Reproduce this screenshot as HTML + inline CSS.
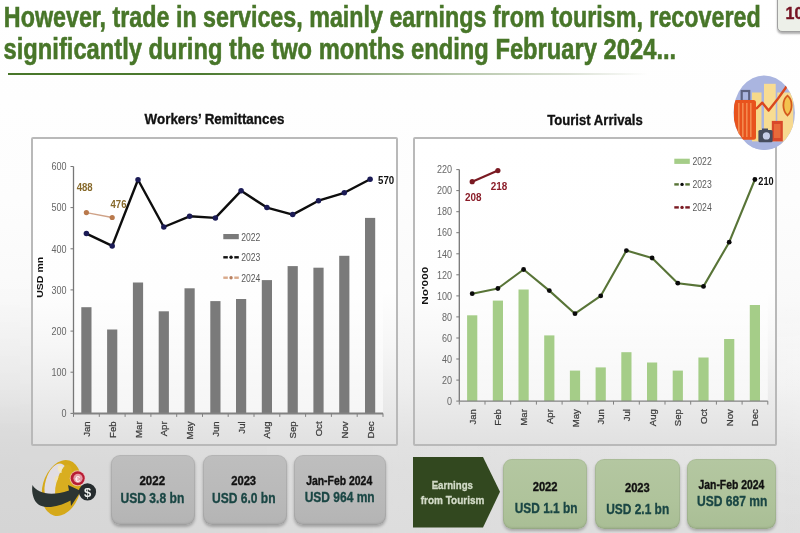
<!DOCTYPE html>
<html>
<head>
<meta charset="utf-8">
<style>
html,body{margin:0;padding:0;}
body{width:800px;height:533px;overflow:hidden;position:relative;
  background:linear-gradient(to bottom,#ffffff 0px,#fdfdfd 200px,#f9f9f9 300px,#f4f4f4 345px,#efefef 385px,#e9e9e9 410px,#e2e2e2 440px,#dfdfdf 470px,#dddddd 533px);
  font-family:"Liberation Sans",Arial,sans-serif;}
.abs{position:absolute;}
.uline{position:absolute;left:8px;top:72.5px;width:640px;height:2px;background:linear-gradient(to right,#487629 0%,#4c7a30 30%,#7d9c68 50%,#b5c6a9 70%,#dce2d6 88%,rgba(235,238,232,0) 100%);}
.pg{position:absolute;left:777px;top:-8px;width:40px;height:37.5px;border:1.5px solid #a0a0a0;border-radius:5px;background:#edf0e9;box-shadow:0 2px 2px rgba(0,0,0,0.3);}
.pgt{position:absolute;left:785.5px;top:4.5px;font-weight:bold;font-size:16px;color:#751222;-webkit-text-stroke:0.4px #751222;}
.box{position:absolute;top:137px;height:305px;border:2px solid #b9b9b9;border-radius:2px;background:linear-gradient(to bottom,#ffffff 0%,#fefefe 50%,#f6f6f6 68%,#ededed 82%,#e1e1e1 100%);}
svg text{font-family:"Liberation Sans",Arial,sans-serif;}
.yl{font-size:10.4px;fill:#666;}
.xl{font-size:9.6px;fill:#3c3c3c;stroke:#3c3c3c;stroke-width:0.25px;}
.dl{font-size:10.5px;font-weight:bold;}
.lg{font-size:10.8px;fill:#5a5a5a;}
.yt{font-weight:bold;fill:#111;}
.gbox{position:absolute;border-radius:9px;background:linear-gradient(to bottom,#bebebe,#b9b9b9 60%,#b4b4b4);box-shadow:inset 0 0 0 1px rgba(0,0,0,0.05),inset 0 -2px 2px rgba(0,0,0,0.07),0 2px 3px rgba(0,0,0,0.26);text-align:center;}
.vbox{position:absolute;border-radius:9px;background:linear-gradient(to bottom,#b4c7a1,#afc39b 60%,#a9be95);box-shadow:inset 0 0 0 1px rgba(0,0,0,0.05),inset 0 -2px 2px rgba(0,0,0,0.06),0 2px 3px rgba(0,0,0,0.24);text-align:center;}
</style>
</head>
<body>
<div class="abs" style="left:0;top:280px;width:800px;height:253px;background:linear-gradient(to right,rgba(0,0,0,0.035) 0%,rgba(0,0,0,0.01) 30%,rgba(255,255,255,0) 50%,rgba(255,255,255,0.05) 100%);-webkit-mask-image:linear-gradient(to bottom,transparent 0%,#000 60%,#000 100%);mask-image:linear-gradient(to bottom,transparent 0%,#000 60%,#000 100%);"></div>
<div class="abs" style="left:0;top:300px;width:800px;height:233px;background:linear-gradient(to right,rgba(255,255,255,0) 45%,rgba(255,255,255,0.3) 100%);-webkit-mask-image:linear-gradient(to bottom,transparent 0%,rgba(0,0,0,1) 25%,rgba(0,0,0,0.6) 60%,rgba(0,0,0,0.1) 100%);mask-image:linear-gradient(to bottom,transparent 0%,rgba(0,0,0,1) 25%,rgba(0,0,0,0.6) 60%,rgba(0,0,0,0.1) 100%);"></div>
<div class="uline"></div>
<div class="pg"></div>
<div class="pgt">10</div>

<!-- chart boxes -->
<div class="box" style="left:31px;width:363px;"></div>
<div class="box" style="left:413px;width:360px;"></div>

<svg class="abs" style="left:0;top:0" width="800" height="533" viewBox="0 0 800 533">
<defs><linearGradient id="pa" x1="0" y1="0" x2="0" y2="1"><stop offset="0" stop-color="#fff" stop-opacity="0"/><stop offset="0.6" stop-color="#fff" stop-opacity="0.5"/><stop offset="1" stop-color="#fff" stop-opacity="0.6"/></linearGradient></defs>
<rect x="73.5" y="166.5" width="309.5" height="246.9" fill="url(#pa)"/>
<rect x="81.3" y="307.2" width="10.2" height="106.2" fill="#7a7a7a"/>
<rect x="107.1" y="329.5" width="10.2" height="83.9" fill="#7a7a7a"/>
<rect x="132.9" y="282.5" width="10.2" height="130.9" fill="#7a7a7a"/>
<rect x="158.7" y="311.3" width="10.2" height="102.1" fill="#7a7a7a"/>
<rect x="184.5" y="288.3" width="10.2" height="125.1" fill="#7a7a7a"/>
<rect x="210.3" y="301.1" width="10.2" height="112.3" fill="#7a7a7a"/>
<rect x="236.0" y="299.0" width="10.2" height="114.4" fill="#7a7a7a"/>
<rect x="261.8" y="280.1" width="10.2" height="133.3" fill="#7a7a7a"/>
<rect x="287.6" y="266.1" width="10.2" height="147.3" fill="#7a7a7a"/>
<rect x="313.4" y="267.7" width="10.2" height="145.7" fill="#7a7a7a"/>
<rect x="339.2" y="255.8" width="10.2" height="157.6" fill="#7a7a7a"/>
<rect x="365.0" y="217.9" width="10.2" height="195.5" fill="#7a7a7a"/>
<line x1="73.5" y1="166.5" x2="73.5" y2="413.4" stroke="#777" stroke-width="1.3"/>
<line x1="73.5" y1="413.4" x2="383.0" y2="413.4" stroke="#828282" stroke-width="2"/>
<line x1="70.5" y1="413.4" x2="73.5" y2="413.4" stroke="#777" stroke-width="1"/>
<text x="61.48" y="417.1" class="yl" textLength="5.02" lengthAdjust="spacingAndGlyphs">0</text>
<line x1="70.5" y1="372.2" x2="73.5" y2="372.2" stroke="#777" stroke-width="1"/>
<text x="51.44" y="375.9" class="yl" textLength="15.06" lengthAdjust="spacingAndGlyphs">100</text>
<line x1="70.5" y1="331.1" x2="73.5" y2="331.1" stroke="#777" stroke-width="1"/>
<text x="51.44" y="334.8" class="yl" textLength="15.06" lengthAdjust="spacingAndGlyphs">200</text>
<line x1="70.5" y1="289.9" x2="73.5" y2="289.9" stroke="#777" stroke-width="1"/>
<text x="51.44" y="293.6" class="yl" textLength="15.06" lengthAdjust="spacingAndGlyphs">300</text>
<line x1="70.5" y1="248.8" x2="73.5" y2="248.8" stroke="#777" stroke-width="1"/>
<text x="51.44" y="252.5" class="yl" textLength="15.06" lengthAdjust="spacingAndGlyphs">400</text>
<line x1="70.5" y1="207.6" x2="73.5" y2="207.6" stroke="#777" stroke-width="1"/>
<text x="51.44" y="211.3" class="yl" textLength="15.06" lengthAdjust="spacingAndGlyphs">500</text>
<line x1="70.5" y1="166.5" x2="73.5" y2="166.5" stroke="#777" stroke-width="1"/>
<text x="51.44" y="170.2" class="yl" textLength="15.06" lengthAdjust="spacingAndGlyphs">600</text>
<line x1="73.5" y1="413.4" x2="73.5" y2="416.9" stroke="#808080" stroke-width="1"/>
<line x1="99.3" y1="413.4" x2="99.3" y2="416.9" stroke="#808080" stroke-width="1"/>
<line x1="125.1" y1="413.4" x2="125.1" y2="416.9" stroke="#808080" stroke-width="1"/>
<line x1="150.9" y1="413.4" x2="150.9" y2="416.9" stroke="#808080" stroke-width="1"/>
<line x1="176.7" y1="413.4" x2="176.7" y2="416.9" stroke="#808080" stroke-width="1"/>
<line x1="202.5" y1="413.4" x2="202.5" y2="416.9" stroke="#808080" stroke-width="1"/>
<line x1="228.2" y1="413.4" x2="228.2" y2="416.9" stroke="#808080" stroke-width="1"/>
<line x1="254.0" y1="413.4" x2="254.0" y2="416.9" stroke="#808080" stroke-width="1"/>
<line x1="279.8" y1="413.4" x2="279.8" y2="416.9" stroke="#808080" stroke-width="1"/>
<line x1="305.6" y1="413.4" x2="305.6" y2="416.9" stroke="#808080" stroke-width="1"/>
<line x1="331.4" y1="413.4" x2="331.4" y2="416.9" stroke="#808080" stroke-width="1"/>
<line x1="357.2" y1="413.4" x2="357.2" y2="416.9" stroke="#808080" stroke-width="1"/>
<line x1="383.0" y1="413.4" x2="383.0" y2="416.9" stroke="#808080" stroke-width="1"/>
<text transform="translate(89.9,421.4) rotate(-90)" text-anchor="end" class="xl">Jan</text>
<text transform="translate(115.7,421.4) rotate(-90)" text-anchor="end" class="xl">Feb</text>
<text transform="translate(141.5,421.4) rotate(-90)" text-anchor="end" class="xl">Mar</text>
<text transform="translate(167.3,421.4) rotate(-90)" text-anchor="end" class="xl">Apr</text>
<text transform="translate(193.1,421.4) rotate(-90)" text-anchor="end" class="xl">May</text>
<text transform="translate(218.9,421.4) rotate(-90)" text-anchor="end" class="xl">Jun</text>
<text transform="translate(244.6,421.4) rotate(-90)" text-anchor="end" class="xl">Jul</text>
<text transform="translate(270.4,421.4) rotate(-90)" text-anchor="end" class="xl">Aug</text>
<text transform="translate(296.2,421.4) rotate(-90)" text-anchor="end" class="xl">Sep</text>
<text transform="translate(322.0,421.4) rotate(-90)" text-anchor="end" class="xl">Oct</text>
<text transform="translate(347.8,421.4) rotate(-90)" text-anchor="end" class="xl">Nov</text>
<text transform="translate(373.6,421.4) rotate(-90)" text-anchor="end" class="xl">Dec</text>
<polyline points="86.4,233.6 112.2,245.9 138.0,179.7 163.8,227.0 189.6,216.3 215.4,217.9 241.1,190.8 266.9,207.6 292.7,214.6 318.5,200.7 344.3,192.8 370.1,179.3" fill="none" stroke="#0d0d0d" stroke-width="2.4" stroke-linejoin="round"/>
<circle cx="86.4" cy="233.6" r="2.75" fill="#1b1b55"/>
<circle cx="112.2" cy="245.9" r="2.75" fill="#1b1b55"/>
<circle cx="138.0" cy="179.7" r="2.75" fill="#1b1b55"/>
<circle cx="163.8" cy="227.0" r="2.75" fill="#1b1b55"/>
<circle cx="189.6" cy="216.3" r="2.75" fill="#1b1b55"/>
<circle cx="215.4" cy="217.9" r="2.75" fill="#1b1b55"/>
<circle cx="241.1" cy="190.8" r="2.75" fill="#1b1b55"/>
<circle cx="266.9" cy="207.6" r="2.75" fill="#1b1b55"/>
<circle cx="292.7" cy="214.6" r="2.75" fill="#1b1b55"/>
<circle cx="318.5" cy="200.7" r="2.75" fill="#1b1b55"/>
<circle cx="344.3" cy="192.8" r="2.75" fill="#1b1b55"/>
<circle cx="370.1" cy="179.3" r="2.75" fill="#1b1b55"/>
<line x1="86.4" y1="212.6" x2="112.2" y2="217.5" stroke="#cfa287" stroke-width="1.4"/>
<circle cx="86.4" cy="212.6" r="2.6" fill="#b9794c"/>
<circle cx="112.2" cy="217.5" r="2.6" fill="#b9794c"/>
<text x="76.7" y="191" class="dl" fill="#86692a" textLength="16" lengthAdjust="spacingAndGlyphs">488</text>
<text x="110.5" y="207.8" class="dl" fill="#86692a" textLength="16" lengthAdjust="spacingAndGlyphs">476</text>
<text x="378" y="184" class="dl" fill="#111" textLength="16.2" lengthAdjust="spacingAndGlyphs">570</text>
<text transform="translate(42.6,297.80) rotate(-90)" class="yt" font-size="8.2" textLength="41" lengthAdjust="spacingAndGlyphs">USD mn</text><rect x="223.3" y="234.0" width="15.5" height="5.2" fill="#7a7a7a"/>
<rect x="223.3" y="256.1" width="4.5" height="2.4" fill="#111"/>
<rect x="234.3" y="256.1" width="4.5" height="2.4" fill="#111"/>
<circle cx="231.05" cy="257.3" r="1.7" fill="#111"/>
<rect x="223.3" y="276.5" width="4.5" height="2.4" fill="#d9a98a"/>
<rect x="234.3" y="276.5" width="4.5" height="2.4" fill="#d9a98a"/>
<circle cx="231.05" cy="277.7" r="1.7" fill="#b88060"/>
<text x="241.2" y="240.5" class="lg" textLength="19.2" lengthAdjust="spacingAndGlyphs">2022</text>
<text x="241.2" y="261.2" class="lg" textLength="19.2" lengthAdjust="spacingAndGlyphs">2023</text>
<text x="241.2" y="281.6" class="lg" textLength="19.2" lengthAdjust="spacingAndGlyphs">2024</text>
<rect x="459.3" y="169.6" width="308.5" height="231.6" fill="url(#pa)"/>
<rect x="467.1" y="315.3" width="10.2" height="85.8" fill="#a5cd88"/>
<rect x="492.8" y="300.6" width="10.2" height="100.5" fill="#a5cd88"/>
<rect x="518.5" y="289.5" width="10.2" height="111.6" fill="#a5cd88"/>
<rect x="544.2" y="335.4" width="10.2" height="65.7" fill="#a5cd88"/>
<rect x="569.9" y="370.6" width="10.2" height="30.5" fill="#a5cd88"/>
<rect x="595.6" y="367.4" width="10.2" height="33.7" fill="#a5cd88"/>
<rect x="621.3" y="352.2" width="10.2" height="48.9" fill="#a5cd88"/>
<rect x="647.0" y="362.5" width="10.2" height="38.6" fill="#a5cd88"/>
<rect x="672.7" y="370.6" width="10.2" height="30.5" fill="#a5cd88"/>
<rect x="698.4" y="357.5" width="10.2" height="43.6" fill="#a5cd88"/>
<rect x="724.1" y="339.0" width="10.2" height="62.1" fill="#a5cd88"/>
<rect x="749.8" y="305.0" width="10.2" height="96.1" fill="#a5cd88"/>
<line x1="459.3" y1="169.6" x2="459.3" y2="401.1" stroke="#777" stroke-width="1.3"/>
<line x1="459.3" y1="401.1" x2="767.8" y2="401.1" stroke="#828282" stroke-width="1.4"/>
<line x1="456.3" y1="401.1" x2="459.3" y2="401.1" stroke="#777" stroke-width="1"/>
<text x="446.98" y="404.8" class="yl" textLength="5.02" lengthAdjust="spacingAndGlyphs">0</text>
<line x1="456.3" y1="380.1" x2="459.3" y2="380.1" stroke="#777" stroke-width="1"/>
<text x="441.96" y="383.8" class="yl" textLength="10.04" lengthAdjust="spacingAndGlyphs">20</text>
<line x1="456.3" y1="359.0" x2="459.3" y2="359.0" stroke="#777" stroke-width="1"/>
<text x="441.96" y="362.7" class="yl" textLength="10.04" lengthAdjust="spacingAndGlyphs">40</text>
<line x1="456.3" y1="338.0" x2="459.3" y2="338.0" stroke="#777" stroke-width="1"/>
<text x="441.96" y="341.7" class="yl" textLength="10.04" lengthAdjust="spacingAndGlyphs">60</text>
<line x1="456.3" y1="316.9" x2="459.3" y2="316.9" stroke="#777" stroke-width="1"/>
<text x="441.96" y="320.6" class="yl" textLength="10.04" lengthAdjust="spacingAndGlyphs">80</text>
<line x1="456.3" y1="295.9" x2="459.3" y2="295.9" stroke="#777" stroke-width="1"/>
<text x="436.94" y="299.6" class="yl" textLength="15.06" lengthAdjust="spacingAndGlyphs">100</text>
<line x1="456.3" y1="274.8" x2="459.3" y2="274.8" stroke="#777" stroke-width="1"/>
<text x="436.94" y="278.5" class="yl" textLength="15.06" lengthAdjust="spacingAndGlyphs">120</text>
<line x1="456.3" y1="253.8" x2="459.3" y2="253.8" stroke="#777" stroke-width="1"/>
<text x="436.94" y="257.5" class="yl" textLength="15.06" lengthAdjust="spacingAndGlyphs">140</text>
<line x1="456.3" y1="232.7" x2="459.3" y2="232.7" stroke="#777" stroke-width="1"/>
<text x="436.94" y="236.4" class="yl" textLength="15.06" lengthAdjust="spacingAndGlyphs">160</text>
<line x1="456.3" y1="211.7" x2="459.3" y2="211.7" stroke="#777" stroke-width="1"/>
<text x="436.94" y="215.4" class="yl" textLength="15.06" lengthAdjust="spacingAndGlyphs">180</text>
<line x1="456.3" y1="190.6" x2="459.3" y2="190.6" stroke="#777" stroke-width="1"/>
<text x="436.94" y="194.3" class="yl" textLength="15.06" lengthAdjust="spacingAndGlyphs">200</text>
<line x1="456.3" y1="169.6" x2="459.3" y2="169.6" stroke="#777" stroke-width="1"/>
<text x="436.94" y="173.2" class="yl" textLength="15.06" lengthAdjust="spacingAndGlyphs">220</text>
<line x1="459.3" y1="401.1" x2="459.3" y2="404.6" stroke="#808080" stroke-width="1"/>
<line x1="485.0" y1="401.1" x2="485.0" y2="404.6" stroke="#808080" stroke-width="1"/>
<line x1="510.7" y1="401.1" x2="510.7" y2="404.6" stroke="#808080" stroke-width="1"/>
<line x1="536.4" y1="401.1" x2="536.4" y2="404.6" stroke="#808080" stroke-width="1"/>
<line x1="562.1" y1="401.1" x2="562.1" y2="404.6" stroke="#808080" stroke-width="1"/>
<line x1="587.8" y1="401.1" x2="587.8" y2="404.6" stroke="#808080" stroke-width="1"/>
<line x1="613.5" y1="401.1" x2="613.5" y2="404.6" stroke="#808080" stroke-width="1"/>
<line x1="639.3" y1="401.1" x2="639.3" y2="404.6" stroke="#808080" stroke-width="1"/>
<line x1="665.0" y1="401.1" x2="665.0" y2="404.6" stroke="#808080" stroke-width="1"/>
<line x1="690.7" y1="401.1" x2="690.7" y2="404.6" stroke="#808080" stroke-width="1"/>
<line x1="716.4" y1="401.1" x2="716.4" y2="404.6" stroke="#808080" stroke-width="1"/>
<line x1="742.1" y1="401.1" x2="742.1" y2="404.6" stroke="#808080" stroke-width="1"/>
<line x1="767.8" y1="401.1" x2="767.8" y2="404.6" stroke="#808080" stroke-width="1"/>
<text transform="translate(475.7,409.1) rotate(-90)" text-anchor="end" class="xl">Jan</text>
<text transform="translate(501.4,409.1) rotate(-90)" text-anchor="end" class="xl">Feb</text>
<text transform="translate(527.1,409.1) rotate(-90)" text-anchor="end" class="xl">Mar</text>
<text transform="translate(552.8,409.1) rotate(-90)" text-anchor="end" class="xl">Apr</text>
<text transform="translate(578.5,409.1) rotate(-90)" text-anchor="end" class="xl">May</text>
<text transform="translate(604.2,409.1) rotate(-90)" text-anchor="end" class="xl">Jun</text>
<text transform="translate(629.9,409.1) rotate(-90)" text-anchor="end" class="xl">Jul</text>
<text transform="translate(655.6,409.1) rotate(-90)" text-anchor="end" class="xl">Aug</text>
<text transform="translate(681.3,409.1) rotate(-90)" text-anchor="end" class="xl">Sep</text>
<text transform="translate(707.0,409.1) rotate(-90)" text-anchor="end" class="xl">Oct</text>
<text transform="translate(732.7,409.1) rotate(-90)" text-anchor="end" class="xl">Nov</text>
<text transform="translate(758.4,409.1) rotate(-90)" text-anchor="end" class="xl">Dec</text>
<polyline points="472.2,293.7 497.9,288.5 523.6,269.5 549.3,290.6 575.0,313.7 600.7,295.9 626.4,250.6 652.1,258.0 677.8,283.2 703.5,286.4 729.2,242.2 754.9,179.5" fill="none" stroke="#587437" stroke-width="2.1" stroke-linejoin="round"/>
<circle cx="472.2" cy="293.7" r="2.4" fill="#0a0a0a"/>
<circle cx="497.9" cy="288.5" r="2.4" fill="#0a0a0a"/>
<circle cx="523.6" cy="269.5" r="2.4" fill="#0a0a0a"/>
<circle cx="549.3" cy="290.6" r="2.4" fill="#0a0a0a"/>
<circle cx="575.0" cy="313.7" r="2.4" fill="#0a0a0a"/>
<circle cx="600.7" cy="295.9" r="2.4" fill="#0a0a0a"/>
<circle cx="626.4" cy="250.6" r="2.4" fill="#0a0a0a"/>
<circle cx="652.1" cy="258.0" r="2.4" fill="#0a0a0a"/>
<circle cx="677.8" cy="283.2" r="2.4" fill="#0a0a0a"/>
<circle cx="703.5" cy="286.4" r="2.4" fill="#0a0a0a"/>
<circle cx="729.2" cy="242.2" r="2.4" fill="#0a0a0a"/>
<circle cx="754.9" cy="179.5" r="2.4" fill="#0a0a0a"/>
<line x1="472.2" y1="181.7" x2="497.9" y2="170.6" stroke="#7a1a22" stroke-width="2.2"/>
<circle cx="472.2" cy="181.7" r="2.6" fill="#7a1a22"/>
<circle cx="497.9" cy="170.6" r="2.6" fill="#7a1a22"/>
<text x="465" y="201" class="dl" fill="#8a1c28" textLength="16.5" lengthAdjust="spacingAndGlyphs">208</text>
<text x="490.7" y="190" class="dl" fill="#8a1c28" textLength="16.5" lengthAdjust="spacingAndGlyphs">218</text>
<text x="758.3" y="184.5" class="dl" fill="#111" textLength="15.3" lengthAdjust="spacingAndGlyphs">210</text>
<text transform="translate(427.8,304.80) rotate(-90)" class="yt" font-size="8.8" textLength="38" lengthAdjust="spacingAndGlyphs">No'000</text><rect x="674.3" y="158.70000000000002" width="15.5" height="5.2" fill="#a5cd88"/>
<rect x="674.3" y="183.20000000000002" width="4.5" height="2.4" fill="#587437"/>
<rect x="685.3" y="183.20000000000002" width="4.5" height="2.4" fill="#587437"/>
<circle cx="682.05" cy="184.4" r="1.7" fill="#0a0a0a"/>
<rect x="674.3" y="206.20000000000002" width="4.5" height="2.4" fill="#7a1a22"/>
<rect x="685.3" y="206.20000000000002" width="4.5" height="2.4" fill="#7a1a22"/>
<circle cx="682.05" cy="207.4" r="1.7" fill="#7a1a22"/>
<text x="692.5" y="165.2" class="lg" textLength="19.2" lengthAdjust="spacingAndGlyphs">2022</text>
<text x="692.5" y="188.3" class="lg" textLength="19.2" lengthAdjust="spacingAndGlyphs">2023</text>
<text x="692.5" y="211.3" class="lg" textLength="19.2" lengthAdjust="spacingAndGlyphs">2024</text>
</svg>

<!-- travel icon -->
<svg class="abs" style="left:730px;top:72px" width="70" height="84" viewBox="0 0 70 84">
  <defs><clipPath id="cc"><ellipse cx="34.2" cy="40.7" rx="30.7" ry="37.3"/></clipPath></defs>
  <ellipse cx="34.2" cy="40.7" rx="30.7" ry="37.3" fill="#aab5e0"/>
  <g clip-path="url(#cc)">
    <rect x="22" y="20.5" width="9.5" height="52" fill="#f6d98a"/>
    <rect x="34" y="11.8" width="11.7" height="62" fill="#f8dc92"/>
    <rect x="47.3" y="20.5" width="16" height="52" fill="#f7d990"/>
    <rect x="0" y="69.4" width="70" height="16" fill="#a9b4df"/>
    <path d="M26 37 L32.3 30.7 L38.6 38.6 L47.3 27.6 L55.2 16.5 L58 12" fill="none" stroke="#d9471e" stroke-width="2.4" stroke-linejoin="round"/>
    <path d="M57.5 23.6 C52 28 52 38 57.5 43.4 C63 38 63 28 57.5 23.6Z" fill="#f3c24e" stroke="#d45a1e" stroke-width="1.8"/>
    <rect x="11.7" y="19" width="7.5" height="10" fill="none" stroke="#5b6180" stroke-width="2.2"/>
    <rect x="3.9" y="28" width="22.1" height="39.8" rx="2.5" fill="#e8531d"/>
    <rect x="8" y="31" width="1.6" height="34" fill="#f38a4e"/>
    <rect x="12" y="31" width="1.6" height="34" fill="#f38a4e"/>
    <rect x="16" y="31" width="1.6" height="34" fill="#f38a4e"/>
    <rect x="20" y="31" width="1.6" height="34" fill="#f38a4e"/>
    <rect x="41.8" y="48.9" width="11" height="20.5" fill="#d9482a"/>
    <rect x="44" y="52" width="6.5" height="14" fill="#e86a3a"/>
    <rect x="28.4" y="58" width="14.2" height="12.2" rx="1.5" fill="#464c5e"/>
    <rect x="32" y="56.5" width="6" height="3" fill="#464c5e"/>
    <circle cx="36.4" cy="63.9" r="3.6" fill="#c6cde8"/>
  </g>
</svg>

<!-- money icon -->
<svg class="abs" style="left:28px;top:452px" width="72" height="72" viewBox="0 0 72 72">
  <ellipse cx="33.5" cy="36" rx="19" ry="28.5" transform="rotate(16 33.5 36)" fill="#d5a91a"/>
  <ellipse cx="28" cy="31" rx="10.5" ry="20" transform="rotate(16 28 31)" fill="#e1dde3"/>
  <ellipse cx="35.5" cy="31" rx="7" ry="19" transform="rotate(16 35.5 31)" fill="#d9ae20"/>
  <path d="M30 14 q3 -1 5 1 q-2 3 -1.5 6 q-2.5 0 -3.5 -3 q-0.5 -2 0 -4z" fill="#f3e9c4"/>
  <path d="M27 25 q2 -2 3.5 0 q-1 4 -3 6 q-1.5 -3 -0.5 -6z" fill="#efe3b8"/>
  <circle cx="49.7" cy="26.3" r="8" fill="#f2c6cc" opacity="0.7"/>
  <circle cx="49.7" cy="26.3" r="7" fill="#b81c34"/>
  <circle cx="50" cy="26.3" r="4.6" fill="#e49aa6"/>
  <text x="49.6" y="29.8" text-anchor="middle" font-size="9.5" font-weight="bold" fill="#fbf0f0">€</text>
  <path d="M4.5 33 C9 41 22 45 41 38.5 L40 33 L53 39 L43 54 L42.5 48.5 C28 56.5 13 57.5 7.5 49.5 C4.5 45 3.5 38 4.5 33Z" fill="#2c3533"/>
  <circle cx="59.5" cy="39.9" r="8.6" fill="#262c2e"/>
  <text x="59.5" y="44.8" text-anchor="middle" font-size="13" font-weight="bold" fill="#eef0ee">$</text>
</svg>

<!-- bottom gray boxes -->
<div class="gbox" style="left:110.5px;top:454.5px;width:84px;height:70px;">
</div>
<div class="gbox" style="left:202.5px;top:454.5px;width:84px;height:70px;">
</div>
<div class="gbox" style="left:294px;top:455px;width:92px;height:70px;">
</div>

<!-- bottom green -->
<svg class="abs" style="left:413px;top:456.5px" width="90" height="72" viewBox="0 0 90 72">
  <path d="M0 0 H70 L87 34.8 L70 70.6 H0 Z" fill="#32481f"/>
</svg>

<div class="vbox" style="left:503px;top:458.5px;width:84px;height:70px;">
</div>
<div class="vbox" style="left:595px;top:459px;width:84.5px;height:70px;">
</div>
<div class="vbox" style="left:687px;top:458.5px;width:89px;height:70.5px;">
</div>
<svg class="abs" style="left:0;top:0" width="800" height="533" viewBox="0 0 800 533">
<text x="3.86" y="26.8" font-size="30.2" font-weight="bold" fill="#487629" textLength="756.75" lengthAdjust="spacingAndGlyphs" stroke="#487629" stroke-width="0.6">However, trade in services, mainly earnings from tourism, recovered</text>
<text x="3.51" y="58.5" font-size="30.2" font-weight="bold" fill="#487629" textLength="672.68" lengthAdjust="spacingAndGlyphs" stroke="#487629" stroke-width="0.6">significantly during the two months ending February 2024...</text>
<text x="144.58" y="124.4" font-size="15.5" font-weight="bold" fill="#111" textLength="139.78" lengthAdjust="spacingAndGlyphs" stroke="#111" stroke-width="0.35">Workers’ Remittances</text>
<text x="547.17" y="125.0" font-size="15.5" font-weight="bold" fill="#111" textLength="95.57" lengthAdjust="spacingAndGlyphs" stroke="#111" stroke-width="0.35">Tourist Arrivals</text>
<text x="139.48" y="485.3" font-size="12.5" font-weight="bold" fill="#111" textLength="25.61" lengthAdjust="spacingAndGlyphs" stroke="#111" stroke-width="0.35">2022</text>
<text x="120.47" y="502.5" font-size="15.5" font-weight="bold" fill="#1a4644" textLength="63.82" lengthAdjust="spacingAndGlyphs" stroke="#1a4644" stroke-width="0.35">USD 3.8 bn</text>
<text x="231.18" y="484.7" font-size="12.5" font-weight="bold" fill="#111" textLength="24.91" lengthAdjust="spacingAndGlyphs" stroke="#111" stroke-width="0.35">2023</text>
<text x="211.98" y="502.5" font-size="15.5" font-weight="bold" fill="#1a4644" textLength="63.51" lengthAdjust="spacingAndGlyphs" stroke="#1a4644" stroke-width="0.35">USD 6.0 bn</text>
<text x="306.18" y="484.6" font-size="12.5" font-weight="bold" fill="#111" textLength="66.01" lengthAdjust="spacingAndGlyphs" stroke="#111" stroke-width="0.35">Jan-Feb 2024</text>
<text x="304.68" y="502.0" font-size="15.5" font-weight="bold" fill="#1a4644" textLength="70.01" lengthAdjust="spacingAndGlyphs" stroke="#1a4644" stroke-width="0.35">USD 964 mn</text>
<text x="431.68" y="488.6" font-size="11.8" font-weight="bold" fill="#d3dbc8" textLength="41.29" lengthAdjust="spacingAndGlyphs" stroke="#d3dbc8" stroke-width="0.35">Earnings</text>
<text x="420.78" y="503.7" font-size="11.8" font-weight="bold" fill="#d3dbc8" textLength="63.56" lengthAdjust="spacingAndGlyphs" stroke="#d3dbc8" stroke-width="0.35">from Tourism</text>
<text x="532.67" y="491.0" font-size="12.5" font-weight="bold" fill="#111" textLength="24.91" lengthAdjust="spacingAndGlyphs" stroke="#111" stroke-width="0.35">2022</text>
<text x="514.77" y="513.2" font-size="15.5" font-weight="bold" fill="#1a4644" textLength="62.71" lengthAdjust="spacingAndGlyphs" stroke="#1a4644" stroke-width="0.35">USD 1.1 bn</text>
<text x="624.97" y="491.6" font-size="12.5" font-weight="bold" fill="#111" textLength="24.81" lengthAdjust="spacingAndGlyphs" stroke="#111" stroke-width="0.35">2023</text>
<text x="606.27" y="513.6" font-size="15.5" font-weight="bold" fill="#1a4644" textLength="62.91" lengthAdjust="spacingAndGlyphs" stroke="#1a4644" stroke-width="0.35">USD 2.1 bn</text>
<text x="698.47" y="489.0" font-size="12.5" font-weight="bold" fill="#111" textLength="65.91" lengthAdjust="spacingAndGlyphs" stroke="#111" stroke-width="0.35">Jan-Feb 2024</text>
<text x="696.97" y="506.2" font-size="15.5" font-weight="bold" fill="#1a4644" textLength="70.31" lengthAdjust="spacingAndGlyphs" stroke="#1a4644" stroke-width="0.35">USD 687 mn</text>
</svg>
</body>
</html>
